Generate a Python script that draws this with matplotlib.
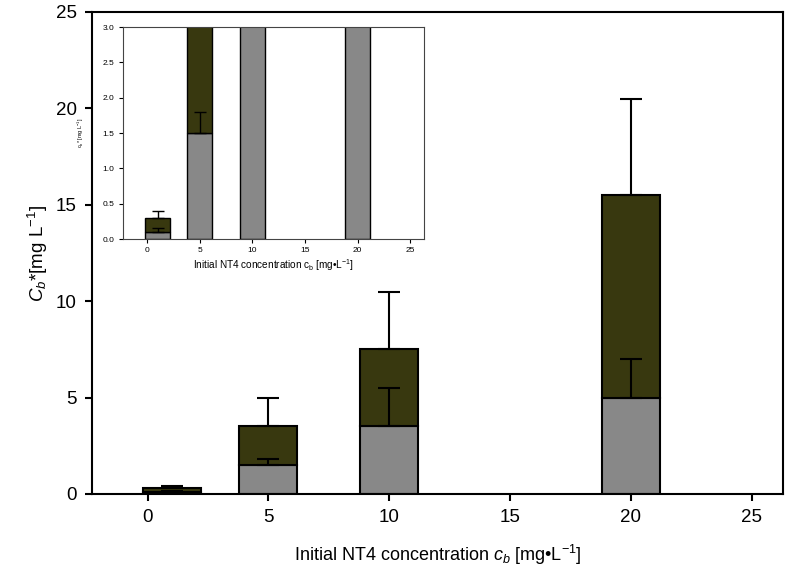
import matplotlib
matplotlib.use("Agg")
import matplotlib.pyplot as plt

plt.rcParams['font.family'] = ['Liberation Sans', 'DejaVu Sans']
plt.rcParams['mathtext.fontset'] = 'custom'
plt.rcParams['mathtext.rm'] = 'Liberation Sans'
plt.rcParams['mathtext.it'] = 'Liberation Sans:italic'

# data
conc = [1, 5, 10, 20]
gray_vals = [0.1, 1.5, 3.5, 5.0]
dark_vals = [0.2, 2.0, 4.0, 10.5]          # stacked on top of gray
gray_err = [0.05, 0.3, 2.0, 2.0]
total_err = [0.1, 1.5, 3.0, 5.0]
xticks = [0, 5, 10, 15, 20, 25]

gray = '#888888'
dark = '#38380f'
width = 2.4

fig = plt.figure(figsize=(7.92, 5.76), dpi=100)
ax = fig.add_axes([0.1162, 0.1424, 0.8725, 0.8368])


def draw(a, lw, cap):
    totals = [g + d for g, d in zip(gray_vals, dark_vals)]
    a.bar(conc, gray_vals, width=width, color=gray, edgecolor='black', linewidth=lw, zorder=2)
    a.bar(conc, dark_vals, width=width, bottom=gray_vals, color=dark, edgecolor='black',
          linewidth=lw, zorder=2)
    a.errorbar(conc, gray_vals, yerr=[[0] * 4, gray_err], fmt='none', ecolor='black',
               elinewidth=lw, capsize=cap, capthick=lw, zorder=3)
    a.errorbar(conc, totals, yerr=[[0] * 4, total_err], fmt='none', ecolor='black',
               elinewidth=lw, capsize=cap, capthick=lw, zorder=3)
    a.set_xlim(-2.3, 26.3)
    a.set_xticks(xticks)


draw(ax, 1.5, 8)
ax.set_ylim(0, 25)
ax.set_yticks([0, 5, 10, 15, 20, 25])
for s in ax.spines.values():
    s.set_linewidth(1.5)
ax.tick_params(direction='out', length=5, width=1.5, labelsize=13.5, pad=6)
ax.set_xlabel(r'Initial NT4 concentration $c_b$ [mg•L$^{-1}$]', fontsize=13, labelpad=12)
ax.set_ylabel(r'$C_b$*[mg L$^{-1}$]', fontsize=13.5, labelpad=4)

# inset
ins = fig.add_axes([0.1553, 0.585, 0.380, 0.368])
draw(ins, 1.0, 4)
ins.set_ylim(0, 3.0)
ins.set_yticks([0, 0.5, 1.0, 1.5, 2.0, 2.5, 3.0])
ins.set_yticklabels(['0.0', '0.5', '1.0', '1.5', '2.0', '2.5', '3.0'])
for s in ins.spines.values():
    s.set_linewidth(0.8)
    s.set_color('#444444')
ins.tick_params(direction='out', length=3, width=0.8, labelsize=6, pad=3)
ins.set_xlabel(r'Initial NT4 concentration c$_\mathregular{b}$ [mg•L$^{-1}$]', fontsize=7.2, labelpad=2)
ins.set_ylabel(r'c$_\mathregular{b}$* [mg L$^{-1}$]', fontsize=4, labelpad=12)

fig.savefig('out.png', dpi=100)
